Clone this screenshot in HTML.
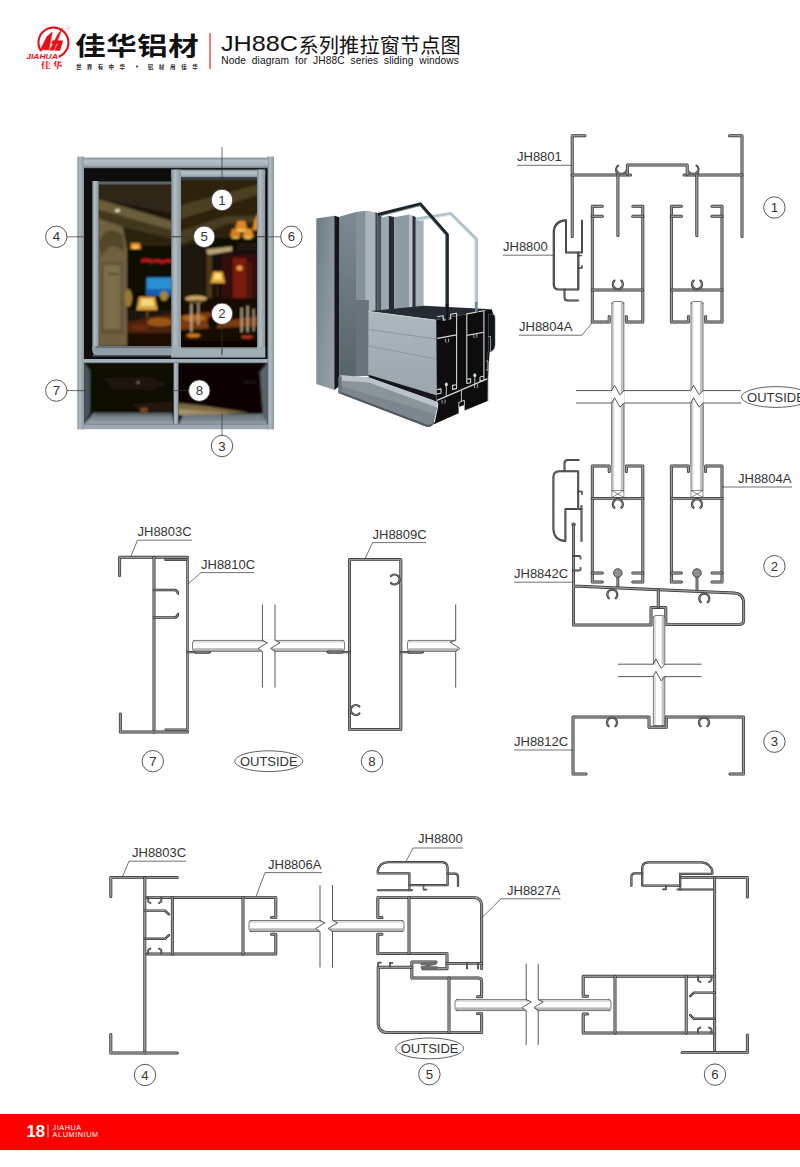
<!DOCTYPE html>
<html><head><meta charset="utf-8"><title>JH88C</title>
<style>
html,body{margin:0;padding:0;background:#fff;}
body{width:800px;height:1167px;overflow:hidden;font-family:"Liberation Sans",sans-serif;}
svg{display:block;font-family:"Liberation Sans",sans-serif;}
</style></head><body>
<svg width="800" height="1167" viewBox="0 0 800 1167">
<g id="header">
<circle cx="53.45" cy="42.6" r="15" fill="none" stroke="#e60f18" stroke-width="2.1"/>
<rect x="24" y="51.2" width="34.6" height="8.6" fill="#fff"/>
<rect x="36" y="57.5" width="22" height="4" fill="#fff"/>
<path d="M40.3 49.8L46.9 36.6L52.3 32L49 49.8Z" fill="#e60f18" stroke="#e60f18" stroke-width="0.5" stroke-linejoin="round"/>
<path d="M49.6 50.2L53.9 50.2L62.3 28L57.2 35.6Z" fill="#e60f18" stroke="#e60f18" stroke-width="0.5" stroke-linejoin="round"/>
<path d="M52.6 40.7L62.9 40.7L61.9 43.4L51.5 43.4Z" fill="#e60f18" stroke="#e60f18" stroke-width="0.5" stroke-linejoin="round"/>
<path d="M57.8 43.2L62.1 43.2L60 50.4L54.8 50.4Z" fill="#e60f18" stroke="#e60f18" stroke-width="0.5" stroke-linejoin="round"/>
<text x="26.2" y="58.9" font-size="7.6" fill="#e60f18" text-anchor="start" font-weight="bold" font-style="italic" textLength="31.6" lengthAdjust="spacingAndGlyphs">JIAHUA</text>
<circle cx="68.2" cy="27.9" r="1.4" fill="none" stroke="#e60f18" stroke-width="0.35" opacity="0.7"/>
<text transform="translate(40.8 68) scale(1.25 1)" x="0 9.28" y="0" font-size="8" font-weight="bold" fill="#e60f18" font-family="'Liberation Serif','Noto Serif CJK SC',serif">佳华</text>
<text transform="translate(75.2 54.6) scale(1.22 1)" x="0 25.41 50.82 76.23" y="0" font-size="25" font-weight="bold" fill="#111" font-family="'Liberation Sans','Noto Sans CJK SC',sans-serif">佳华铝材</text>
<text x="75.9 86.8 97.7 108.6 119.5" y="68.7" font-size="5.5" font-weight="bold" fill="#222" font-family="'Liberation Sans','Noto Sans CJK SC',sans-serif">世界有中华</text>
<rect x="136.2" y="65.6" width="1.7" height="1.7" fill="#222"/>
<text x="147.7 158.85 170 181.15 192.3" y="68.7" font-size="5.5" font-weight="bold" fill="#222" font-family="'Liberation Sans','Noto Sans CJK SC',sans-serif">铝材用佳华</text>
<rect x="209.5" y="33" width="1.1" height="36" fill="#e60f18"/>
<text x="221" y="51" font-size="21.5" fill="#111" text-anchor="start" font-weight="normal" textLength="77" lengthAdjust="spacingAndGlyphs">JH88C</text>
<text x="298.5 318.8 339.1 359.4 379.7 400 420.3 440.6" y="52.5" font-size="20.2" font-weight="normal" fill="#111" font-family="'Liberation Sans','Noto Sans CJK SC',sans-serif">系列推拉窗节点图</text>
<text x="221.3" y="64" font-size="10.2" fill="#111" text-anchor="start" font-weight="normal" textLength="237.5" lengthAdjust="spacing" word-spacing="3">Node diagram for JH88C series sliding windows</text>
</g>
<rect x="0" y="1114" width="800" height="36" fill="#fe0000"/>
<text x="26.5" y="1137.2" font-size="16.2" fill="#fff" text-anchor="start" font-weight="bold" textLength="18.5" lengthAdjust="spacingAndGlyphs">18</text>
<rect x="47.6" y="1124.5" width="0.8" height="13" fill="#fff"/>
<text x="52.6" y="1130.3" font-size="7.2" fill="#fff" text-anchor="start" font-weight="normal" textLength="28.5" lengthAdjust="spacing">JIAHUA</text>
<text x="52.6" y="1137.3" font-size="7.2" fill="#fff" text-anchor="start" font-weight="normal" textLength="45.5" lengthAdjust="spacing">ALUMINIUM</text>
<defs>
<filter id="b1" x="-10%" y="-10%" width="120%" height="120%"><feGaussianBlur stdDeviation="1.1"/></filter>
<filter id="b2" x="-10%" y="-10%" width="120%" height="120%"><feGaussianBlur stdDeviation="2.2"/></filter>
<filter id="b05" x="-5%" y="-5%" width="110%" height="110%"><feGaussianBlur stdDeviation="0.45"/></filter>
<linearGradient id="fr" x1="0" x2="1" y1="0" y2="0"><stop offset="0" stop-color="#7c8890"/><stop offset="0.35" stop-color="#b2bdc4"/><stop offset="1" stop-color="#8b979f"/></linearGradient>
<linearGradient id="frh" x1="0" x2="0" y1="0" y2="1"><stop offset="0" stop-color="#828e96"/><stop offset="0.3" stop-color="#b6c1c8"/><stop offset="0.75" stop-color="#a3afb7"/><stop offset="1" stop-color="#6f7b83"/></linearGradient>
<clipPath id="cgl"><rect x="98.6" y="184.6" width="72.8" height="161.6"/></clipPath>
<clipPath id="cgr"><rect x="181" y="180" width="76" height="167"/></clipPath>
<clipPath id="cpl"><rect x="83.7" y="362.7" width="90" height="61.5"/></clipPath>
<clipPath id="cpr"><rect x="178.4" y="362.7" width="89.3" height="61.5"/></clipPath>
</defs>
<g id="photo" filter="url(#b05)">
<rect x="83" y="166" width="185" height="260" fill="#0b0b0c"/>
<g clip-path="url(#cgl)"><g filter="url(#b1)">
<rect x="95" y="180" width="80" height="170" fill="#1a130a"/>
<polygon points="95,184 175,184 175,214 95,198" fill="#2e2513"/>
<polygon points="95,198 175,222 175,231 95,209" fill="#6b5d3a"/>
<polygon points="95,209 175,231 175,240 126,228 95,219" fill="#43371e"/>
<polygon points="126,228 175,240 175,252 126,244" fill="#2a2011"/>
<polygon points="95,217 123,227 127,248 127,346 95,346" fill="#6e6141"/>
<path d="M99 242Q107 222 123 236L124 252Q110 238 101 258Z" fill="#524629"/>
<rect x="101" y="262" width="22" height="72" fill="#5f5336"/>
<rect x="103.5" y="265" width="17" height="64" fill="#7b6e4b"/>
<rect x="108" y="273.5" width="11" height="1" fill="#3a301c"/>
<ellipse cx="117.5" cy="210.6" rx="2.6" ry="1.4" fill="#fff3d6"/>
<rect x="127" y="246" width="48" height="64" fill="#0c0805"/>
<polygon points="131,243 140,243 141,249 130,249" fill="#d9851f"/>
<ellipse cx="135.5" cy="247" rx="3" ry="1.5" fill="#ffd860"/>
<path d="M141 259.5Q147 257 152 260Q158 258 163 260.5Q168 258 172 260L172 263Q166 261.5 162 264Q156 261.5 151 263.5Q146 261 141 263Z" fill="#b01616"/>
<rect x="146.5" y="277.5" width="26" height="18" fill="#2b8ed6"/>
<rect x="146.5" y="289" width="26" height="6.5" fill="#155fb0"/>
<polygon points="139,297 155,297 157.5,310 136.5,310" fill="#d9a23c"/>
<polygon points="141.5,299 153,299 154,306 140.5,306" fill="#f7d77d"/>
<rect x="146" y="310" width="2.6" height="9" fill="#5a3c14"/>
<ellipse cx="128.5" cy="298" rx="3.6" ry="9" fill="#9a7a30"/>
<ellipse cx="164" cy="296" rx="4" ry="5" fill="#a58638"/>
<polygon points="127,322 175,312 175,334 127,336" fill="#4a2009"/>
<ellipse cx="160" cy="322" rx="13" ry="4.5" fill="#9a5418"/>
<ellipse cx="140" cy="327" rx="10" ry="3" fill="#6a2c0c"/>
<rect x="127" y="333" width="48" height="13" fill="#1a0a05"/>
</g></g>
<g clip-path="url(#cgr)"><g filter="url(#b1)">
<rect x="178" y="176" width="82" height="174" fill="#150e08"/>
<polygon points="178,178 260,178 260,236 178,262" fill="#2d2411"/>
<polygon points="178,206 260,184 260,194 178,220" fill="#4d4022"/>
<polygon points="178,232 226,216 260,216 260,222 226,224 178,246" fill="#4a3d20"/>
<polygon points="178,248 206,240 206,300 178,300" fill="#1f180b"/>
<rect x="205" y="238" width="55" height="11" fill="#0b0705"/>
<polygon points="206,249.5 232,246.5 232,251 208,255" fill="#b9a373"/>
<rect x="206.5" y="255" width="5.5" height="45" fill="#4f3718"/>
<polygon points="237.5,221 245,221 247.5,230 235,230" fill="#e08a28"/>
<polygon points="232,229 239,229 241,236.5 230,236.5" fill="#d97c20"/>
<polygon points="244.5,229 251.5,229 253.5,237 242.5,237" fill="#e3912c"/>
<polygon points="254.5,220 258,213 258,230 252.5,230" fill="#e58f2a"/>
<ellipse cx="241.2" cy="230.6" rx="4.5" ry="1.1" fill="#ffe36a"/>
<ellipse cx="235.5" cy="237.4" rx="4" ry="1.0" fill="#ffd95a"/>
<ellipse cx="248" cy="237.8" rx="4" ry="1.0" fill="#ffd95a"/>
<rect x="237" y="243" width="20" height="8" fill="#1d160d"/>
<rect x="222" y="254" width="38" height="80" fill="#36100a"/>
<rect x="233" y="258" width="13" height="46" fill="#7a1a10"/>
<rect x="246" y="262" width="6" height="40" fill="#4f120b"/>
<ellipse cx="239.5" cy="268" rx="3" ry="2.6" fill="#e9a040"/>
<polygon points="213,271.5 222.5,271.5 225,283 210.5,283" fill="#dfa638"/>
<polygon points="215,273.5 220.5,273.5 221.5,279.5 214,279.5" fill="#ffe27a"/>
<rect x="216.6" y="283" width="1.4" height="14" fill="#3a2810"/>
<rect x="178" y="298" width="82" height="52" fill="#130905"/>
<ellipse cx="196" cy="298.5" rx="11" ry="3" fill="#c9a66a"/>
<ellipse cx="196" cy="301.5" rx="8" ry="1.8" fill="#6a4e24"/>
<polygon points="178,316 208,312 230,320 260,316 260,326 178,330" fill="#7a3a10"/>
<ellipse cx="194" cy="318" rx="12" ry="3.4" fill="#b0661e"/>
<ellipse cx="193.5" cy="335.5" rx="7" ry="2.0" fill="#d27a1a"/>
<ellipse cx="247" cy="337" rx="6" ry="1.6" fill="#b83a22"/>
<rect x="190.5" y="304" width="1.5" height="28" fill="#cdbd9d"/>
<rect x="197.5" y="303" width="1.5" height="22" fill="#b8a888"/>
<rect x="241" y="308" width="1.4" height="24" fill="#cdbd9d"/>
<rect x="247" y="306" width="1.4" height="26" fill="#cdbd9d"/>
<rect x="253" y="309" width="1.4" height="22" fill="#b8a888"/>
<ellipse cx="213" cy="322" rx="5.5" ry="7" fill="#0e0704"/>
<rect x="178" y="341" width="82" height="8" fill="#0e0604"/>
</g></g>
<g clip-path="url(#cpl)"><g filter="url(#b1)">
<rect x="80" y="360" width="96" height="68" fill="#080706"/>
<polygon points="83,362 90,370 90,413 83,425" fill="#4a5358"/>
<polygon points="104,378 150,377 166,384 152,390 112,389" fill="#1f170b"/>
<ellipse cx="138" cy="382.5" rx="1.2" ry="0.8" fill="#b8a888"/>
<polygon points="130,404 172,401 172,411 142,412" fill="#22160a"/>
<ellipse cx="144" cy="410" rx="4" ry="2.4" fill="#7a4618"/>
<polygon points="94,413 172,413 174,425 83,425" fill="#7d878e"/>
<polygon points="96,413 172,413 172,416 94,416" fill="#5d676d"/>
<polygon points="88,420.5 174,420.5 174,425 83,425" fill="#939da4"/>
</g></g>
<g clip-path="url(#cpr)"><g filter="url(#b1)">
<rect x="176" y="360" width="94" height="68" fill="#070606"/>
<polygon points="268,362 260,372 263,414 268,425" fill="#5a656b"/>
<polygon points="178,403 205,406 250,413 178,414" fill="#7e6a42"/>
<polygon points="178,409 236,414 178,415" fill="#a8926a"/>
<polygon points="183,415 263,414 268,425 178,425" fill="#737d84"/>
<polygon points="182,420.5 266,420.5 268,425 178,425" fill="#8f99a0"/>
<polygon points="244,381 256,380 256,383 244,384" fill="#1e1810"/>
</g></g>
<rect x="92.3" y="181" width="6.4" height="170" fill="url(#fr)"/>
<rect x="98.6" y="181.4" width="72.8" height="3.2" fill="#59636a"/>
<path d="M92.3 346L171.4 346L171.4 355.5L97 355.5Q92.3 355.5 92.3 350Z" fill="#929ea6"/>
<rect x="96" y="346" width="75.4" height="2.2" fill="#68737a"/>
<rect x="92.3" y="355" width="79" height="1.6" fill="#4b545a"/>
<rect x="171.2" y="169.6" width="94" height="8" fill="url(#frh)"/>
<rect x="171.2" y="169.6" width="9.8" height="188" fill="url(#fr)"/>
<rect x="257" y="169.6" width="8.2" height="188" fill="url(#fr)"/>
<rect x="171.2" y="347" width="94" height="10.6" fill="#a2aeb6"/>
<rect x="181" y="347" width="76" height="1.6" fill="#6c777e"/>
<rect x="181" y="177.6" width="76" height="2.6" fill="#353d42"/>
<rect x="171.2" y="236.3" width="9.8" height="0.8" fill="#5a656c"/>
<rect x="257" y="236.3" width="8.2" height="0.8" fill="#5a656c"/>
<rect x="221.4" y="348.6" width="0.8" height="7" fill="#56606a"/>
<rect x="171.2" y="356.8" width="94" height="1.2" fill="#6a757c"/>
<rect x="77.4" y="156.5" width="6.6" height="273" fill="url(#fr)"/>
<rect x="267.5" y="156.5" width="6.5" height="273" fill="url(#fr)"/>
<rect x="83.6" y="157.6" width="184.2" height="10.6" fill="url(#frh)"/>
<rect x="83.6" y="359" width="184.2" height="3.8" fill="#a6b2ba"/>
<rect x="83.6" y="362.4" width="184.2" height="0.8" fill="#7a858c"/>
<rect x="173.5" y="362.8" width="5" height="61.5" fill="url(#fr)"/>
<rect x="83.6" y="424" width="184.2" height="5.2" fill="#9ca8b0"/>
<rect x="83.6" y="424" width="184.2" height="0.9" fill="#828d94"/>
</g>
<path d="M222 147L222 189.5" fill="none" stroke="#333" stroke-width="0.7"/>
<path d="M222 324.5L222 354.5" fill="none" stroke="#333" stroke-width="0.7"/>
<path d="M222 413.5L222 435.5" fill="none" stroke="#333" stroke-width="0.7"/>
<path d="M66.8 236.8L85.5 236.8" fill="none" stroke="#333" stroke-width="0.7"/>
<path d="M171.4 236.8L193.7 236.8" fill="none" stroke="#333" stroke-width="0.7"/>
<path d="M257 236.8L280.8 236.8" fill="none" stroke="#333" stroke-width="0.7"/>
<path d="M66.8 390.6L86 390.6" fill="none" stroke="#333" stroke-width="0.7"/>
<path d="M173.6 390.6L188.7 390.6" fill="none" stroke="#333" stroke-width="0.7"/>
<circle cx="222" cy="200" r="10.7" fill="#fff" stroke="#444" stroke-width="0.9"/>
<text x="222" y="204.6" font-size="13.2" fill="#333" text-anchor="middle" font-weight="normal" >1</text>
<circle cx="204.2" cy="236.8" r="10.7" fill="#fff" stroke="#444" stroke-width="0.9"/>
<text x="204.2" y="241.4" font-size="13.2" fill="#333" text-anchor="middle" font-weight="normal" >5</text>
<circle cx="222" cy="313.8" r="10.7" fill="#fff" stroke="#444" stroke-width="0.9"/>
<text x="222" y="318.40000000000003" font-size="13.2" fill="#333" text-anchor="middle" font-weight="normal" >2</text>
<circle cx="199.3" cy="390.6" r="10.7" fill="#fff" stroke="#444" stroke-width="0.9"/>
<text x="199.3" y="395.20000000000005" font-size="13.2" fill="#333" text-anchor="middle" font-weight="normal" >8</text>
<circle cx="56.3" cy="236.8" r="10.7" fill="none" stroke="#444" stroke-width="0.9"/>
<text x="56.3" y="241.4" font-size="13.2" fill="#333" text-anchor="middle" font-weight="normal" >4</text>
<circle cx="291.4" cy="236.8" r="10.7" fill="none" stroke="#444" stroke-width="0.9"/>
<text x="291.4" y="241.4" font-size="13.2" fill="#333" text-anchor="middle" font-weight="normal" >6</text>
<circle cx="56.3" cy="390.6" r="10.7" fill="none" stroke="#444" stroke-width="0.9"/>
<text x="56.3" y="395.20000000000005" font-size="13.2" fill="#333" text-anchor="middle" font-weight="normal" >7</text>
<circle cx="222" cy="446" r="10.7" fill="none" stroke="#444" stroke-width="0.9"/>
<text x="222" y="450.6" font-size="13.2" fill="#333" text-anchor="middle" font-weight="normal" >3</text>
<defs>
<linearGradient id="g3a" x1="0" x2="1" y1="0" y2="1"><stop offset="0" stop-color="#6c7a84"/><stop offset="0.5" stop-color="#84929b"/><stop offset="1" stop-color="#95a2aa"/></linearGradient>
<linearGradient id="g3b" x1="0" x2="0" y1="0" y2="1"><stop offset="0" stop-color="#adb8be"/><stop offset="1" stop-color="#9aa5ac"/></linearGradient>
<linearGradient id="g3c" x1="0" x2="0.25" y1="0" y2="1"><stop offset="0" stop-color="#d0d7db"/><stop offset="0.22" stop-color="#b4bdc2"/><stop offset="0.35" stop-color="#8c969c"/><stop offset="0.8" stop-color="#7a848a"/><stop offset="1" stop-color="#5b656b"/></linearGradient>
<linearGradient id="g3d" x1="0" x2="0" y1="0" y2="1"><stop offset="0" stop-color="#7d8a93"/><stop offset="1" stop-color="#566268"/></linearGradient>
</defs>
<g id="r3d" filter="url(#b05)">
<polygon points="377.5,214.5 381.6,213.5 381.6,312.0 377.5,312.0" fill="#4b555b" />
<polygon points="381.6,217.5 388.8,215.8 388.8,312.0 381.6,312.0" fill="#9ca8b0" />
<polygon points="388.8,215.8 394.4,217.2 394.4,312.0 388.8,312.0" fill="#262c30" />
<polygon points="394.4,217.2 409.0,214.5 409.0,310.0 394.4,310.0" fill="#8f9ba3" />
<polygon points="409.0,214.5 412.4,215.5 412.4,310.0 409.0,310.0" fill="#b9c3c9" />
<polygon points="412.4,215.5 415.8,217.0 415.8,308.0 412.4,308.0" fill="#2c3337" />
<polygon points="415.8,218.6 423.6,217.0 423.6,308.0 415.8,308.0" fill="#a5b1b8" />
<polygon points="316.3,218.6 334.3,215.7 334.3,390.0 316.3,384.0" fill="url(#g3a)" />
<polygon points="334.3,215.7 339.6,217.2 339.6,386.0 334.3,390.0" fill="#14181b" />
<polygon points="339.6,216.6 356.0,211.9 356.0,376.0 339.6,380.0" fill="url(#g3d)" />
<polygon points="356.0,211.9 365.8,210.7 365.8,375.0 356.0,376.0" fill="#84919a" />
<polygon points="365.8,210.4 375.3,212.2 375.3,314.0 365.8,314.0" fill="#a9b5bc" />
<polygon points="375.3,212.2 377.6,213.0 377.6,313.0 375.3,313.0" fill="#3d464b" />
<polygon points="356.0,300.0 368.8,300.0 368.8,376.0 356.0,376.0" fill="#67737a" />
<polyline points="416.5,219.2 450.6,213.6 476.3,239.2 476.3,306.0" fill="none" stroke="#b0c3ca" stroke-width="3.4" stroke-linejoin="round" />
<polyline points="418.0,220.6 450.2,215.3 474.8,239.8 474.8,306.0" fill="none" stroke="#e1eaed" stroke-width="1.0" stroke-linejoin="round" />
<polyline points="377.8,214.6 420.3,204.0 447.2,234.6 447.2,308.0" fill="none" stroke="#1e262b" stroke-width="3.3" stroke-linejoin="round" />
<polyline points="379.0,216.2 420.0,205.7 445.8,235.0 445.8,306.0" fill="none" stroke="#65737b" stroke-width="0.8" stroke-linejoin="round" />
<polygon points="368.2,311.2 424.0,305.7 491.7,309.3 435.9,320.0" fill="#262c30" />
<polygon points="368.6,311.2 436.2,320.0 436.2,395.3 368.6,375.2" fill="url(#g3b)" />
<polyline points="368.2,329.4 435.9,339.0" fill="none" stroke="#7b868d" stroke-width="0.6" stroke-linejoin="round" />
<polyline points="368.2,346.0 435.9,359.0" fill="none" stroke="#7b868d" stroke-width="0.6" stroke-linejoin="round" />
<polyline points="368.2,311.4 435.9,320.2" fill="none" stroke="#d0d8dc" stroke-width="0.7" stroke-linejoin="round" />
<polygon points="436.2,320.0 491.7,309.3 494.0,316.4 494.0,347.3 489.6,352.0 488.0,377.0 487.6,401.0 464.6,410.6 464.6,405.0 458.6,407.0 458.6,413.2 433.5,424.6 437.0,402.0 436.6,392.4" fill="#0b0c0d" />
<polyline points="447.2,304.0 447.2,319.0" fill="none" stroke="#0e1316" stroke-width="2.6" stroke-linejoin="round" />
<polyline points="476.3,302.0 476.3,313.0" fill="none" stroke="#6f848d" stroke-width="2.6" stroke-linejoin="round" />
<polyline points="437.2,316.8 443.2,315.7 443.2,320.2 446.0,319.7" fill="none" stroke="#d3d9dc" stroke-width="1.1" stroke-linejoin="round" />
<polyline points="448.6,319.2 450.7,318.8 450.7,314.3 456.6,313.2 456.6,388.6 452.6,389.4 452.6,385.2" fill="none" stroke="#d3d9dc" stroke-width="1.1" stroke-linejoin="round" />
<polyline points="437.2,338.4 456.6,334.9" fill="none" stroke="#d3d9dc" stroke-width="1.1" stroke-linejoin="round" />
<polyline points="437.2,389.6 441.0,388.9 441.0,393.2 437.2,393.9" fill="none" stroke="#d3d9dc" stroke-width="1.1" stroke-linejoin="round" />
<polyline points="452.2,385.4 456.2,384.7" fill="none" stroke="#d3d9dc" stroke-width="1.1" stroke-linejoin="round" />
<polyline points="476.0,312.2 466.8,313.9 466.8,383.5 470.6,382.8 470.6,378.6" fill="none" stroke="#d3d9dc" stroke-width="1.1" stroke-linejoin="round" />
<polyline points="478.4,311.8 483.9,310.8 483.9,380.4 480.0,381.1 480.0,377.0" fill="none" stroke="#d3d9dc" stroke-width="1.1" stroke-linejoin="round" />
<polyline points="466.8,335.4 483.9,332.3" fill="none" stroke="#d3d9dc" stroke-width="1.1" stroke-linejoin="round" />
<polyline points="466.8,379.2 470.4,378.6" fill="none" stroke="#d3d9dc" stroke-width="1.1" stroke-linejoin="round" />
<polyline points="480.2,376.8 483.9,376.2" fill="none" stroke="#d3d9dc" stroke-width="1.1" stroke-linejoin="round" />
<path d="M445.6 339.0Q444.8 341.8 446.2 342.59999999999997M448.4 338.59999999999997Q449.4 341.4 447.9 342.4" fill="none" stroke="#d3d9dc" stroke-width="0.8"/>
<path d="M473.8 334.40000000000003Q473.0 337.20000000000005 474.4 338.0M476.59999999999997 334.0Q477.59999999999997 336.8 476.09999999999997 337.8" fill="none" stroke="#d3d9dc" stroke-width="0.8"/>
<path d="M442.1 400.0Q441.3 402.8 442.7 403.59999999999997M444.9 399.59999999999997Q445.9 402.4 444.4 403.4" fill="none" stroke="#d3d9dc" stroke-width="0.8"/>
<path d="M474.6 384.6Q473.8 387.40000000000003 475.2 388.2M477.4 384.2Q478.4 387.0 476.9 388.0" fill="none" stroke="#d3d9dc" stroke-width="0.8"/>
<ellipse cx="446.3" cy="384.6" rx="1.5" ry="2" fill="#d3d9dc"/>
<polyline points="446.3,384.6 446.3,396.4" fill="none" stroke="#d3d9dc" stroke-width="0.9" stroke-linejoin="round" />
<ellipse cx="474.8" cy="375.2" rx="1.5" ry="2" fill="#d3d9dc"/>
<polyline points="474.8,375.2 474.8,384.6" fill="none" stroke="#d3d9dc" stroke-width="0.9" stroke-linejoin="round" />
<polyline points="437.0,400.4 487.6,378.6" fill="none" stroke="#d3d9dc" stroke-width="1.3" stroke-linejoin="round" />
<polyline points="461.4,390.0 461.4,401.0" fill="none" stroke="#d3d9dc" stroke-width="0.9" stroke-linejoin="round" />
<polyline points="458.8,407.4 458.8,402.4 464.4,400.2 464.4,405.4" fill="none" stroke="#d3d9dc" stroke-width="0.9" stroke-linejoin="round" />
<polyline points="487.8,352.0 487.8,401.0" fill="none" stroke="#4a5358" stroke-width="0.8" stroke-linejoin="round" />
<polyline points="486.2,361.0 488.0,361.0 488.0,370.0 486.2,370.0" fill="none" stroke="#d3d9dc" stroke-width="0.8" stroke-linejoin="round" />
<path d="M488.4 314.6L492.6 314.2Q495 314.6 495 318L495 345Q494.6 350.6 489.6 352L488.4 352Z" fill="#0f1214" stroke="#5d676d" stroke-width="0.6"/>
<polyline points="488.6,336.5 490.6,336.5 490.6,351.0" fill="none" stroke="#d3d9dc" stroke-width="0.7" stroke-linejoin="round" />
<polygon points="368.6,374.8 436.7,395.2 436.7,401.9 368.6,377.8" fill="#14181a" />
<path d="M338.6 378.4Q338.8 375.2 342 375.3L369.25 377.5L432.5 399.9Q438.2 402 437 407L434 422Q432.5 428 426 426.6L338.6 393Z" fill="#8a949a"/>
<path d="M338.8 377.4Q339.4 375.2 342 375.3L369.25 377.5L432.5 399.9Q437.4 401.6 437.2 405.4L436.6 407.6L369 382.4L338.8 380.6Z" fill="#b9c3c8"/>
<path d="M338.6 385.4L435.6 414L434 422Q432.5 428 426 426.6L338.6 393Z" fill="#7c868c"/>
<path d="M338.6 391L427 424.8Q431.5 425.8 433.6 421.5L434 422Q432.5 428 426 426.6L338.6 393Z" fill="#4e585e"/>
<path d="M338.6 377L338.6 393L341.6 394.2L341.6 376Z" fill="#69737a"/>
<path d="M436.4 401.4Q438.4 403.4 437.3 408L434.3 422.5" fill="none" stroke="#e3e8ea" stroke-width="1.1"/>
</g>
<g id="n123">
<path d="M585 135.7L572.2 135.7L572.2 236.4" fill="none" stroke="#303030" stroke-width="3.0" stroke-linecap="round" stroke-linejoin="round"/>
<path d="M585 135.7L572.2 135.7L572.2 236.4" fill="none" stroke="#989898" stroke-width="1.6" stroke-linecap="round" stroke-linejoin="round"/>
<path d="M729.5 135.7L742 135.7L742 236.4" fill="none" stroke="#303030" stroke-width="3.0" stroke-linecap="round" stroke-linejoin="round"/>
<path d="M729.5 135.7L742 135.7L742 236.4" fill="none" stroke="#989898" stroke-width="1.6" stroke-linecap="round" stroke-linejoin="round"/>
<path d="M572.2 175L630.5 175" fill="none" stroke="#303030" stroke-width="3.0" stroke-linecap="round" stroke-linejoin="round"/>
<path d="M572.2 175L630.5 175" fill="none" stroke="#989898" stroke-width="1.6" stroke-linecap="round" stroke-linejoin="round"/>
<path d="M684 175L742 175" fill="none" stroke="#303030" stroke-width="3.0" stroke-linecap="round" stroke-linejoin="round"/>
<path d="M684 175L742 175" fill="none" stroke="#989898" stroke-width="1.6" stroke-linecap="round" stroke-linejoin="round"/>
<path d="M627.4 174.5L627.4 165L687.2 165L687.2 174.5" fill="none" stroke="#303030" stroke-width="3.0" stroke-linecap="round" stroke-linejoin="round"/>
<path d="M627.4 174.5L627.4 165L687.2 165L687.2 174.5" fill="none" stroke="#989898" stroke-width="1.6" stroke-linecap="round" stroke-linejoin="round"/>
<path d="M617.9 174.9L617.9 235.4" fill="none" stroke="#303030" stroke-width="3.0" stroke-linecap="round" stroke-linejoin="round"/>
<path d="M617.9 174.9L617.9 235.4" fill="none" stroke="#989898" stroke-width="1.6" stroke-linecap="round" stroke-linejoin="round"/>
<path d="M696.8 174.9L696.8 235.4" fill="none" stroke="#303030" stroke-width="3.0" stroke-linecap="round" stroke-linejoin="round"/>
<path d="M696.8 174.9L696.8 235.4" fill="none" stroke="#989898" stroke-width="1.6" stroke-linecap="round" stroke-linejoin="round"/>
<path d="M617 174Q614.6 168.5 618.2 165.6" fill="none" stroke="#303030" stroke-width="1.9" stroke-linecap="round" stroke-linejoin="round"/>
<path d="M617 174Q614.6 168.5 618.2 165.6" fill="none" stroke="#989898" stroke-width="0.6" stroke-linecap="round" stroke-linejoin="round"/>
<path d="M697.6 174Q700 168.5 696.4 165.6" fill="none" stroke="#303030" stroke-width="1.9" stroke-linecap="round" stroke-linejoin="round"/>
<path d="M697.6 174Q700 168.5 696.4 165.6" fill="none" stroke="#989898" stroke-width="0.6" stroke-linecap="round" stroke-linejoin="round"/>
<path d="M616.5 174.5Q621.6 176 626.6 174.5L626.6 166Q625.8 172.6 621.6 172.8Q617.6 172.6 617.4 168.5Z" fill="#6a6a6a"/>
<path d="M698.1 174.5Q693 176 688 174.5L688 166Q688.8 172.6 693 172.8Q697 172.6 697.2 168.5Z" fill="#6a6a6a"/>
<text x="517" y="161" font-size="13" fill="#333" text-anchor="start" font-weight="normal" >JH8801</text>
<path d="M517 165.3L572 165.3" fill="none" stroke="#333" stroke-width="0.7"/>
<path d="M566 220.4Q553.8 221 553.8 233L553.8 284.5Q553.8 289.5 559 289.5L578.3 289.5L578.3 252.6" fill="none" stroke="#303030" stroke-width="2.2" stroke-linecap="round" stroke-linejoin="round"/>
<path d="M566 220.4Q553.8 221 553.8 233L553.8 284.5Q553.8 289.5 559 289.5L578.3 289.5L578.3 252.6" fill="none" stroke="#989898" stroke-width="0.5" stroke-linecap="round" stroke-linejoin="round"/>
<path d="M566 220.4L566 252.6L582 252.6L582 220.4" fill="none" stroke="#303030" stroke-width="2.0" stroke-linecap="round" stroke-linejoin="round"/>
<path d="M566 220.4L566 252.6L582 252.6L582 220.4" fill="none" stroke="#989898" stroke-width="0.5" stroke-linecap="round" stroke-linejoin="round"/>
<path d="M564.5 289.5L564.5 297Q564.5 300.5 568 300.5L578 300.5" fill="none" stroke="#303030" stroke-width="2.0" stroke-linecap="round" stroke-linejoin="round"/>
<path d="M564.5 289.5L564.5 297Q564.5 300.5 568 300.5L578 300.5" fill="none" stroke="#989898" stroke-width="0.5" stroke-linecap="round" stroke-linejoin="round"/>
<path d="M578.3 255.6L581.5 255.6M578.3 268L582 268L582 265.6" fill="none" stroke="#303030" stroke-width="1.4" stroke-linecap="round" stroke-linejoin="round"/>
<path d="M578.3 255.6L581.5 255.6M578.3 268L582 268L582 265.6" fill="none" stroke="#989898" stroke-width="0.3" stroke-linecap="round" stroke-linejoin="round"/>
<text x="503" y="251" font-size="13" fill="#333" text-anchor="start" font-weight="normal" >JH8800</text>
<path d="M503 255.2L553 255.2" fill="none" stroke="#333" stroke-width="0.7"/>
<path d="M602.3 206.3L592.3 206.3L592.3 322L609.2 322L609.2 316.5" fill="none" stroke="#303030" stroke-width="3.0" stroke-linecap="round" stroke-linejoin="round"/>
<path d="M602.3 206.3L592.3 206.3L592.3 322L609.2 322L609.2 316.5" fill="none" stroke="#989898" stroke-width="1.6" stroke-linecap="round" stroke-linejoin="round"/>
<path d="M632.8 206.3L642.8 206.3L642.8 322L626.4 322L626.4 316.5" fill="none" stroke="#303030" stroke-width="3.0" stroke-linecap="round" stroke-linejoin="round"/>
<path d="M632.8 206.3L642.8 206.3L642.8 322L626.4 322L626.4 316.5" fill="none" stroke="#989898" stroke-width="1.6" stroke-linecap="round" stroke-linejoin="round"/>
<path d="M592.3 216.3L602.3 216.3" fill="none" stroke="#303030" stroke-width="3.0" stroke-linecap="round" stroke-linejoin="round"/>
<path d="M592.3 216.3L602.3 216.3" fill="none" stroke="#989898" stroke-width="1.6" stroke-linecap="round" stroke-linejoin="round"/>
<path d="M642.8 216.3L632.8 216.3" fill="none" stroke="#303030" stroke-width="3.0" stroke-linecap="round" stroke-linejoin="round"/>
<path d="M642.8 216.3L632.8 216.3" fill="none" stroke="#989898" stroke-width="1.6" stroke-linecap="round" stroke-linejoin="round"/>
<path d="M592.3 290L642.8 290" fill="none" stroke="#303030" stroke-width="3.0" stroke-linecap="round" stroke-linejoin="round"/>
<path d="M592.3 290L642.8 290" fill="none" stroke="#989898" stroke-width="1.6" stroke-linecap="round" stroke-linejoin="round"/>
<path d="M621.32 280.60A5.0 5.0 0 1 1 614.38 280.60" fill="none" stroke="#303030" stroke-width="2.2" stroke-linecap="round" stroke-linejoin="round"/>
<path d="M621.32 280.60A5.0 5.0 0 1 1 614.38 280.60" fill="none" stroke="#989898" stroke-width="0.8" stroke-linecap="round" stroke-linejoin="round"/>
<rect x="611.8499999999999" y="302.5" width="12.0" height="163.5" fill="#fff"/>
<rect x="612.1499999999999" y="302.5" width="2.2" height="163.5" fill="#dadada"/>
<rect x="620.7499999999999" y="302.5" width="2.8" height="163.5" fill="#c2c2c2"/>
<path d="M611.8499999999999 302.5L611.8499999999999 466M623.8499999999999 302.5L623.8499999999999 466" fill="none" stroke="#444" stroke-width="0.7"/>
<path d="M611.8499999999999 304.0Q611.8499999999999 301.5 614.3499999999999 301.5L621.3499999999999 301.5Q623.8499999999999 301.5 623.8499999999999 304.0" fill="none" stroke="#444" stroke-width="0.7"/>
<path d="M681.4 206.3L671.4 206.3L671.4 322L688.4 322L688.4 316.5" fill="none" stroke="#303030" stroke-width="3.0" stroke-linecap="round" stroke-linejoin="round"/>
<path d="M681.4 206.3L671.4 206.3L671.4 322L688.4 322L688.4 316.5" fill="none" stroke="#989898" stroke-width="1.6" stroke-linecap="round" stroke-linejoin="round"/>
<path d="M712 206.3L722 206.3L722 322L705.6 322L705.6 316.5" fill="none" stroke="#303030" stroke-width="3.0" stroke-linecap="round" stroke-linejoin="round"/>
<path d="M712 206.3L722 206.3L722 322L705.6 322L705.6 316.5" fill="none" stroke="#989898" stroke-width="1.6" stroke-linecap="round" stroke-linejoin="round"/>
<path d="M671.4 216.3L681.4 216.3" fill="none" stroke="#303030" stroke-width="3.0" stroke-linecap="round" stroke-linejoin="round"/>
<path d="M671.4 216.3L681.4 216.3" fill="none" stroke="#989898" stroke-width="1.6" stroke-linecap="round" stroke-linejoin="round"/>
<path d="M722 216.3L712 216.3" fill="none" stroke="#303030" stroke-width="3.0" stroke-linecap="round" stroke-linejoin="round"/>
<path d="M722 216.3L712 216.3" fill="none" stroke="#989898" stroke-width="1.6" stroke-linecap="round" stroke-linejoin="round"/>
<path d="M671.4 290L722 290" fill="none" stroke="#303030" stroke-width="3.0" stroke-linecap="round" stroke-linejoin="round"/>
<path d="M671.4 290L722 290" fill="none" stroke="#989898" stroke-width="1.6" stroke-linecap="round" stroke-linejoin="round"/>
<path d="M700.47 280.60A5.0 5.0 0 1 1 693.53 280.60" fill="none" stroke="#303030" stroke-width="2.2" stroke-linecap="round" stroke-linejoin="round"/>
<path d="M700.47 280.60A5.0 5.0 0 1 1 693.53 280.60" fill="none" stroke="#989898" stroke-width="0.8" stroke-linecap="round" stroke-linejoin="round"/>
<rect x="691.0" y="302.5" width="12.0" height="163.5" fill="#fff"/>
<rect x="691.3" y="302.5" width="2.2" height="163.5" fill="#dadada"/>
<rect x="699.9" y="302.5" width="2.8" height="163.5" fill="#c2c2c2"/>
<path d="M691.0 302.5L691.0 466M703.0 302.5L703.0 466" fill="none" stroke="#444" stroke-width="0.7"/>
<path d="M691.0 304.0Q691.0 301.5 693.5 301.5L700.5 301.5Q703.0 301.5 703.0 304.0" fill="none" stroke="#444" stroke-width="0.7"/>
<text x="519" y="331" font-size="13" fill="#333" text-anchor="start" font-weight="normal" >JH8804A</text>
<path d="M519 335.2L582 335.2L592 323" fill="none" stroke="#333" stroke-width="0.7"/>
<text x="774.4" y="212" font-size="13.2" fill="#333" text-anchor="middle" font-weight="normal" >1</text>
<circle cx="774.4" cy="207.5" r="10.7" fill="none" stroke="#444" stroke-width="0.9"/>
<ellipse cx="776" cy="397" rx="34.5" ry="10.4" fill="none" stroke="#444" stroke-width="0.85"/>
<text x="776" y="401.7" font-size="13" fill="#333" text-anchor="middle" font-weight="normal" >OUTSIDE</text>
<path d="M578.6 460L568 460Q564.5 460 564.5 463.5L564.5 471.2" fill="none" stroke="#303030" stroke-width="2.0" stroke-linecap="round" stroke-linejoin="round"/>
<path d="M578.6 460L568 460Q564.5 460 564.5 463.5L564.5 471.2" fill="none" stroke="#989898" stroke-width="0.5" stroke-linecap="round" stroke-linejoin="round"/>
<path d="M578.2 508.9L578.2 471.2L559 471.2Q553.4 471.5 553.4 477L553.4 529Q554 540.5 565.4 541L565.4 508.9L581.5 508.9" fill="none" stroke="#303030" stroke-width="2.0" stroke-linecap="round" stroke-linejoin="round"/>
<path d="M578.2 508.9L578.2 471.2L559 471.2Q553.4 471.5 553.4 477L553.4 529Q554 540.5 565.4 541L565.4 508.9L581.5 508.9" fill="none" stroke="#989898" stroke-width="0.5" stroke-linecap="round" stroke-linejoin="round"/>
<path d="M581.5 506L581.5 541" fill="none" stroke="#303030" stroke-width="2.0" stroke-linecap="round" stroke-linejoin="round"/>
<path d="M581.5 506L581.5 541" fill="none" stroke="#989898" stroke-width="0.5" stroke-linecap="round" stroke-linejoin="round"/>
<path d="M578.2 491.5L582 491.5L582 494.5" fill="none" stroke="#303030" stroke-width="1.4" stroke-linecap="round" stroke-linejoin="round"/>
<path d="M578.2 491.5L582 491.5L582 494.5" fill="none" stroke="#989898" stroke-width="0.3" stroke-linecap="round" stroke-linejoin="round"/>
<rect x="611.8499999999999" y="466" width="12" height="24" fill="#fff"/>
<rect x="611.8499999999999" y="404" width="12.0" height="86.5" fill="#fff"/>
<rect x="612.1499999999999" y="404" width="2.2" height="86.5" fill="#dadada"/>
<rect x="620.7499999999999" y="404" width="2.8" height="86.5" fill="#c2c2c2"/>
<path d="M611.8499999999999 404L611.8499999999999 490.5M623.8499999999999 404L623.8499999999999 490.5" fill="none" stroke="#444" stroke-width="0.7"/>
<path d="M611.8499999999999 490.5L623.8499999999999 490.5L623.8499999999999 497.5L611.8499999999999 497.5ZM611.8499999999999 490.5L623.8499999999999 497.5M623.8499999999999 490.5L611.8499999999999 497.5" fill="none" stroke="#444" stroke-width="0.6"/>
<path d="M609.2 471.5L609.2 466L592.3 466L592.3 582L602.3 582" fill="none" stroke="#303030" stroke-width="3.0" stroke-linecap="round" stroke-linejoin="round"/>
<path d="M609.2 471.5L609.2 466L592.3 466L592.3 582L602.3 582" fill="none" stroke="#989898" stroke-width="1.6" stroke-linecap="round" stroke-linejoin="round"/>
<path d="M626.4 471.5L626.4 466L642.8 466L642.8 582L632.8 582" fill="none" stroke="#303030" stroke-width="3.0" stroke-linecap="round" stroke-linejoin="round"/>
<path d="M626.4 471.5L626.4 466L642.8 466L642.8 582L632.8 582" fill="none" stroke="#989898" stroke-width="1.6" stroke-linecap="round" stroke-linejoin="round"/>
<path d="M592.3 573L602.3 573" fill="none" stroke="#303030" stroke-width="3.0" stroke-linecap="round" stroke-linejoin="round"/>
<path d="M592.3 573L602.3 573" fill="none" stroke="#989898" stroke-width="1.6" stroke-linecap="round" stroke-linejoin="round"/>
<path d="M642.8 573L632.8 573" fill="none" stroke="#303030" stroke-width="3.0" stroke-linecap="round" stroke-linejoin="round"/>
<path d="M642.8 573L632.8 573" fill="none" stroke="#989898" stroke-width="1.6" stroke-linecap="round" stroke-linejoin="round"/>
<path d="M592.3 498.6L642.8 498.6" fill="none" stroke="#303030" stroke-width="3.0" stroke-linecap="round" stroke-linejoin="round"/>
<path d="M592.3 498.6L642.8 498.6" fill="none" stroke="#989898" stroke-width="1.6" stroke-linecap="round" stroke-linejoin="round"/>
<path d="M614.38 507.80A5.0 5.0 0 1 1 621.32 507.80" fill="none" stroke="#303030" stroke-width="2.2" stroke-linecap="round" stroke-linejoin="round"/>
<path d="M614.38 507.80A5.0 5.0 0 1 1 621.32 507.80" fill="none" stroke="#989898" stroke-width="0.8" stroke-linecap="round" stroke-linejoin="round"/>
<path d="M617.8499999999999 577L617.8499999999999 587.9" stroke="#303030" stroke-width="2.8" fill="none"/>
<path d="M617.8499999999999 577L617.8499999999999 587.9" stroke="#989898" stroke-width="1.4" fill="none"/>
<circle cx="617.8499999999999" cy="573" r="4.3" fill="#8f8f8f" stroke="#303030" stroke-width="0.8"/>
<rect x="691.0" y="466" width="12" height="24" fill="#fff"/>
<rect x="691.0" y="404" width="12.0" height="86.5" fill="#fff"/>
<rect x="691.3" y="404" width="2.2" height="86.5" fill="#dadada"/>
<rect x="699.9" y="404" width="2.8" height="86.5" fill="#c2c2c2"/>
<path d="M691.0 404L691.0 490.5M703.0 404L703.0 490.5" fill="none" stroke="#444" stroke-width="0.7"/>
<path d="M691.0 490.5L703.0 490.5L703.0 497.5L691.0 497.5ZM691.0 490.5L703.0 497.5M703.0 490.5L691.0 497.5" fill="none" stroke="#444" stroke-width="0.6"/>
<path d="M688.4 471.5L688.4 466L671.4 466L671.4 582L681.4 582" fill="none" stroke="#303030" stroke-width="3.0" stroke-linecap="round" stroke-linejoin="round"/>
<path d="M688.4 471.5L688.4 466L671.4 466L671.4 582L681.4 582" fill="none" stroke="#989898" stroke-width="1.6" stroke-linecap="round" stroke-linejoin="round"/>
<path d="M705.6 471.5L705.6 466L722 466L722 582L712 582" fill="none" stroke="#303030" stroke-width="3.0" stroke-linecap="round" stroke-linejoin="round"/>
<path d="M705.6 471.5L705.6 466L722 466L722 582L712 582" fill="none" stroke="#989898" stroke-width="1.6" stroke-linecap="round" stroke-linejoin="round"/>
<path d="M671.4 573L681.4 573" fill="none" stroke="#303030" stroke-width="3.0" stroke-linecap="round" stroke-linejoin="round"/>
<path d="M671.4 573L681.4 573" fill="none" stroke="#989898" stroke-width="1.6" stroke-linecap="round" stroke-linejoin="round"/>
<path d="M722 573L712 573" fill="none" stroke="#303030" stroke-width="3.0" stroke-linecap="round" stroke-linejoin="round"/>
<path d="M722 573L712 573" fill="none" stroke="#989898" stroke-width="1.6" stroke-linecap="round" stroke-linejoin="round"/>
<path d="M671.4 498.6L722 498.6" fill="none" stroke="#303030" stroke-width="3.0" stroke-linecap="round" stroke-linejoin="round"/>
<path d="M671.4 498.6L722 498.6" fill="none" stroke="#989898" stroke-width="1.6" stroke-linecap="round" stroke-linejoin="round"/>
<path d="M693.53 507.80A5.0 5.0 0 1 1 700.47 507.80" fill="none" stroke="#303030" stroke-width="2.2" stroke-linecap="round" stroke-linejoin="round"/>
<path d="M693.53 507.80A5.0 5.0 0 1 1 700.47 507.80" fill="none" stroke="#989898" stroke-width="0.8" stroke-linecap="round" stroke-linejoin="round"/>
<path d="M697.0 577L697.0 591.4" stroke="#303030" stroke-width="2.8" fill="none"/>
<path d="M697.0 577L697.0 591.4" stroke="#989898" stroke-width="1.4" fill="none"/>
<circle cx="697.0" cy="573" r="4.3" fill="#8f8f8f" stroke="#303030" stroke-width="0.8"/>
<path d="M611.1999999999999 390.6L614.5 385.3L620.0 394.8L624.4 390.6L624.4 403L620.0 407.2L614.5 397.7L611.1999999999999 403Z" fill="#fff"/>
<path d="M690.3 390.6L693.6 385.3L699.1 394.8L703.5 390.6L703.5 403L699.1 407.2L693.6 397.7L690.3 403Z" fill="#fff"/>
<path d="M576 390.6L611.8 390.6L614.5 385.3L620 394.8L623.8 390.6L690.9 390.6L693.6 385.3L699.1 394.8L702.9 390.6L741 390.6" fill="none" stroke="#3a3a3a" stroke-width="0.85"/>
<path d="M576 403L611.8 403L614.5 397.7L620 407.2L623.8 403L690.9 403L693.6 397.7L699.1 407.2L702.9 403L741 403" fill="none" stroke="#3a3a3a" stroke-width="0.85"/>
<text x="738" y="482.6" font-size="13" fill="#333" text-anchor="start" font-weight="normal" >JH8804A</text>
<path d="M722 487L792 487" fill="none" stroke="#333" stroke-width="0.7"/>
<circle cx="573.6" cy="524.6" r="1.9" fill="#777" stroke="#3a3a3a" stroke-width="0.6"/>
<path d="M573.5 526L573.5 625L651 625L651 607.5L665.8 607.5L665.8 624.4L739 624.4Q743.6 624.4 743.6 620L743.6 601Q742.5 593.5 734 593L573.5 586" fill="none" stroke="#303030" stroke-width="3.0" stroke-linecap="round" stroke-linejoin="round"/>
<path d="M573.5 526L573.5 625L651 625L651 607.5L665.8 607.5L665.8 624.4L739 624.4Q743.6 624.4 743.6 620L743.6 601Q742.5 593.5 734 593L573.5 586" fill="none" stroke="#989898" stroke-width="1.6" stroke-linecap="round" stroke-linejoin="round"/>
<path d="M573 556L579 556Q581 556 580.5 558.5M573 570.5L579 570.5Q581 570.5 580.5 568" fill="none" stroke="#303030" stroke-width="1.8" stroke-linecap="round" stroke-linejoin="round"/>
<path d="M573 556L579 556Q581 556 580.5 558.5M573 570.5L579 570.5Q581 570.5 580.5 568" fill="none" stroke="#989898" stroke-width="0.6" stroke-linecap="round" stroke-linejoin="round"/>
<path d="M658.3 590.5L658.3 607" fill="none" stroke="#303030" stroke-width="3.0" stroke-linecap="round" stroke-linejoin="round"/>
<path d="M658.3 590.5L658.3 607" fill="none" stroke="#989898" stroke-width="1.6" stroke-linecap="round" stroke-linejoin="round"/>
<path d="M608.83 598.20A5.0 5.0 0 1 1 615.77 598.20" fill="none" stroke="#303030" stroke-width="2.2" stroke-linecap="round" stroke-linejoin="round"/>
<path d="M608.83 598.20A5.0 5.0 0 1 1 615.77 598.20" fill="none" stroke="#989898" stroke-width="0.8" stroke-linecap="round" stroke-linejoin="round"/>
<path d="M700.83 602.20A5.0 5.0 0 1 1 707.77 602.20" fill="none" stroke="#303030" stroke-width="2.2" stroke-linecap="round" stroke-linejoin="round"/>
<path d="M700.83 602.20A5.0 5.0 0 1 1 707.77 602.20" fill="none" stroke="#989898" stroke-width="0.8" stroke-linecap="round" stroke-linejoin="round"/>
<text x="514" y="578" font-size="13" fill="#333" text-anchor="start" font-weight="normal" >JH8842C</text>
<path d="M514 582.2L573 582.2" fill="none" stroke="#333" stroke-width="0.7"/>
<text x="774.4" y="570.7" font-size="13.2" fill="#333" text-anchor="middle" font-weight="normal" >2</text>
<circle cx="774.4" cy="566.2" r="10.7" fill="none" stroke="#444" stroke-width="0.9"/>
<rect x="653.4" y="616.5" width="11.399999999999977" height="109.0" fill="#fff"/>
<rect x="653.6999999999999" y="616.5" width="2.2" height="109.0" fill="#dadada"/>
<rect x="661.6999999999999" y="616.5" width="2.8" height="109.0" fill="#c2c2c2"/>
<path d="M653.4 616.5L653.4 725.5M664.8 616.5L664.8 725.5" fill="none" stroke="#444" stroke-width="0.7"/>
<path d="M653.4 618.0Q653.4 615.5 655.9 615.5L662.3 615.5Q664.8 615.5 664.8 618.0" fill="none" stroke="#444" stroke-width="0.7"/>
<path d="M653.4 725.5L664.8 725.5" fill="none" stroke="#444" stroke-width="0.7"/>
<rect x="617" y="664.6" width="86" height="11.6" fill="#fff"/>
<path d="M618 664.2L653.2 664.2L655.9 658.9000000000001L661.2 668.4000000000001L665 664.2L701.5 664.2" fill="none" stroke="#3a3a3a" stroke-width="0.85"/>
<path d="M618 676.6L653.2 676.6L655.9 671.3000000000001L661.2 680.8000000000001L665 676.6L701.5 676.6" fill="none" stroke="#3a3a3a" stroke-width="0.85"/>
<path d="M586 774L573 774L573 717L649 717L649 727.3L666.3 727.3L666.3 717L743.4 717L743.4 774L730 774" fill="none" stroke="#303030" stroke-width="3.0" stroke-linecap="round" stroke-linejoin="round"/>
<path d="M586 774L573 774L573 717L649 717L649 727.3L666.3 727.3L666.3 717L743.4 717L743.4 774L730 774" fill="none" stroke="#989898" stroke-width="1.6" stroke-linecap="round" stroke-linejoin="round"/>
<path d="M608.53 726.20A5.0 5.0 0 1 1 615.47 726.20" fill="none" stroke="#303030" stroke-width="2.2" stroke-linecap="round" stroke-linejoin="round"/>
<path d="M608.53 726.20A5.0 5.0 0 1 1 615.47 726.20" fill="none" stroke="#989898" stroke-width="0.8" stroke-linecap="round" stroke-linejoin="round"/>
<path d="M700.53 726.20A5.0 5.0 0 1 1 707.47 726.20" fill="none" stroke="#303030" stroke-width="2.2" stroke-linecap="round" stroke-linejoin="round"/>
<path d="M700.53 726.20A5.0 5.0 0 1 1 707.47 726.20" fill="none" stroke="#989898" stroke-width="0.8" stroke-linecap="round" stroke-linejoin="round"/>
<text x="514" y="745.6" font-size="13" fill="#333" text-anchor="start" font-weight="normal" >JH8812C</text>
<path d="M514 750L573 750" fill="none" stroke="#333" stroke-width="0.7"/>
<text x="774.4" y="746.2" font-size="13.2" fill="#333" text-anchor="middle" font-weight="normal" >3</text>
<circle cx="774.4" cy="741.7" r="10.7" fill="none" stroke="#444" stroke-width="0.9"/>
</g>
<g id="n78">
<path d="M119.6 575.5L119.6 557.2L187.5 557.2" fill="none" stroke="#303030" stroke-width="3.0" stroke-linecap="round" stroke-linejoin="round"/>
<path d="M119.6 575.5L119.6 557.2L187.5 557.2" fill="none" stroke="#989898" stroke-width="1.6" stroke-linecap="round" stroke-linejoin="round"/>
<path d="M154 557.2L154 732" fill="none" stroke="#303030" stroke-width="3.0" stroke-linecap="round" stroke-linejoin="round"/>
<path d="M154 557.2L154 732" fill="none" stroke="#989898" stroke-width="1.6" stroke-linecap="round" stroke-linejoin="round"/>
<path d="M120.4 714L120.4 732L187.5 732" fill="none" stroke="#303030" stroke-width="3.0" stroke-linecap="round" stroke-linejoin="round"/>
<path d="M120.4 714L120.4 732L187.5 732" fill="none" stroke="#989898" stroke-width="1.6" stroke-linecap="round" stroke-linejoin="round"/>
<path d="M154 590L174 590Q177.5 590 178 593.5" fill="none" stroke="#303030" stroke-width="2.4" stroke-linecap="round" stroke-linejoin="round"/>
<path d="M154 590L174 590Q177.5 590 178 593.5" fill="none" stroke="#989898" stroke-width="1.0" stroke-linecap="round" stroke-linejoin="round"/>
<path d="M154 617.5L174 617.5Q177.5 617.5 178 614" fill="none" stroke="#303030" stroke-width="2.4" stroke-linecap="round" stroke-linejoin="round"/>
<path d="M154 617.5L174 617.5Q177.5 617.5 178 614" fill="none" stroke="#989898" stroke-width="1.0" stroke-linecap="round" stroke-linejoin="round"/>
<path d="M165.5 559.8L187.5 559.8L187.5 729.6L165.5 729.6" fill="none" stroke="#303030" stroke-width="2.4" stroke-linecap="round" stroke-linejoin="round"/>
<path d="M165.5 559.8L187.5 559.8L187.5 729.6L165.5 729.6" fill="none" stroke="#989898" stroke-width="1.0" stroke-linecap="round" stroke-linejoin="round"/>
<path d="M187.5 652.2L210 652.2" fill="none" stroke="#303030" stroke-width="2.2" stroke-linecap="round" stroke-linejoin="round"/>
<path d="M187.5 652.2L210 652.2" fill="none" stroke="#989898" stroke-width="0.9" stroke-linecap="round" stroke-linejoin="round"/>
<rect x="195" y="650.9000000000001" width="14.5" height="2.6" fill="#777" stroke="#333" stroke-width="0.5"/>
<text x="137.5" y="536" font-size="13" fill="#333" text-anchor="start" font-weight="normal" >JH8803C</text>
<path d="M192 540.2L137.5 540.2L131 556" fill="none" stroke="#333" stroke-width="0.7"/>
<text x="201" y="569" font-size="13" fill="#333" text-anchor="start" font-weight="normal" >JH8810C</text>
<path d="M254 572.6L201 572.6L188 584" fill="none" stroke="#333" stroke-width="0.7"/>
<rect x="193.5" y="640.4" width="150.0" height="11.0" fill="#fff"/>
<rect x="193.5" y="640.6999999999999" width="150.0" height="2.0" fill="#dcdcdc"/>
<rect x="193.5" y="648.1999999999999" width="150.0" height="3.0" fill="#b6b6b6"/>
<path d="M193.5 640.4L343.5 640.4M193.5 651.4L343.5 651.4" fill="none" stroke="#444" stroke-width="0.7"/>
<path d="M195.0 640.4Q192.5 640.4 192.5 642.9L192.5 648.9Q192.5 651.4 195.0 651.4" fill="none" stroke="#444" stroke-width="0.7"/>
<path d="M342.0 640.4Q344.5 640.4 344.5 642.9L344.5 648.9Q344.5 651.4 342.0 651.4" fill="none" stroke="#444" stroke-width="0.7"/>
<path d="M262.4 639.8L267.4 642.7L258.1 648.4L262.4 652.0L275 652.0L270.7 648.4L280.0 642.7L275 639.8Z" fill="#fff"/>
<path d="M262.4 604.5L262.4 640.4L267.4 642.7L258.1 648.4L262.4 651.4L262.4 687.5" fill="none" stroke="#3a3a3a" stroke-width="0.85"/>
<path d="M275 604.5L275 640.4L280.0 642.7L270.7 648.4L275 651.4L275 687.5" fill="none" stroke="#3a3a3a" stroke-width="0.85"/>
<path d="M349.5 559.6L400.8 559.6L400.8 729.6L349.5 729.6Z" fill="none" stroke="#303030" stroke-width="3.0" stroke-linecap="round" stroke-linejoin="round"/>
<path d="M349.5 559.6L400.8 559.6L400.8 729.6L349.5 729.6Z" fill="none" stroke="#989898" stroke-width="1.6" stroke-linecap="round" stroke-linejoin="round"/>
<path d="M391.00 576.03A5.0 5.0 0 1 1 391.00 582.97" fill="none" stroke="#303030" stroke-width="2.2" stroke-linecap="round" stroke-linejoin="round"/>
<path d="M391.00 576.03A5.0 5.0 0 1 1 391.00 582.97" fill="none" stroke="#989898" stroke-width="0.8" stroke-linecap="round" stroke-linejoin="round"/>
<path d="M359.40 713.47A5.0 5.0 0 1 1 359.40 706.53" fill="none" stroke="#303030" stroke-width="2.2" stroke-linecap="round" stroke-linejoin="round"/>
<path d="M359.40 713.47A5.0 5.0 0 1 1 359.40 706.53" fill="none" stroke="#989898" stroke-width="0.8" stroke-linecap="round" stroke-linejoin="round"/>
<path d="M327.5 652.2L349.5 652.2" fill="none" stroke="#303030" stroke-width="2.2" stroke-linecap="round" stroke-linejoin="round"/>
<path d="M327.5 652.2L349.5 652.2" fill="none" stroke="#989898" stroke-width="0.9" stroke-linecap="round" stroke-linejoin="round"/>
<rect x="328" y="650.9000000000001" width="14.5" height="2.6" fill="#777" stroke="#333" stroke-width="0.5"/>
<path d="M400.8 652.2L423 652.2" fill="none" stroke="#303030" stroke-width="2.2" stroke-linecap="round" stroke-linejoin="round"/>
<path d="M400.8 652.2L423 652.2" fill="none" stroke="#989898" stroke-width="0.9" stroke-linecap="round" stroke-linejoin="round"/>
<rect x="408" y="650.9000000000001" width="14.5" height="2.6" fill="#777" stroke="#333" stroke-width="0.5"/>
<text x="372.5" y="539" font-size="13" fill="#333" text-anchor="start" font-weight="normal" >JH8809C</text>
<path d="M426 542.6L372.5 542.6L365 559" fill="none" stroke="#333" stroke-width="0.7"/>
<rect x="408.5" y="640.4" width="49.5" height="11.0" fill="#fff"/>
<rect x="408.5" y="640.6999999999999" width="49.5" height="2.0" fill="#dcdcdc"/>
<rect x="408.5" y="648.1999999999999" width="49.5" height="3.0" fill="#b6b6b6"/>
<path d="M408.5 640.4L458 640.4M408.5 651.4L458 651.4" fill="none" stroke="#444" stroke-width="0.7"/>
<path d="M410.0 640.4Q407.5 640.4 407.5 642.9L407.5 648.9Q407.5 651.4 410.0 651.4" fill="none" stroke="#444" stroke-width="0.7"/>
<path d="M455.7 639L455.7 640.3L450.1 642.2L459.9 648.5L455.7 651.4L455.7 653L466 653L466 639Z" fill="#fff"/>
<path d="M455.7 604.5L455.7 640.3L450.1 642.2L459.9 648.5L455.7 651.4L455.7 687.5" fill="none" stroke="#3a3a3a" stroke-width="0.85"/>
<circle cx="152.8" cy="761.2" r="10.7" fill="none" stroke="#444" stroke-width="0.9"/>
<text x="152.8" y="765.8000000000001" font-size="13.2" fill="#333" text-anchor="middle" font-weight="normal" >7</text>
<circle cx="372" cy="761.2" r="10.7" fill="none" stroke="#444" stroke-width="0.9"/>
<text x="372" y="765.8000000000001" font-size="13.2" fill="#333" text-anchor="middle" font-weight="normal" >8</text>
<ellipse cx="268.8" cy="761.2" rx="34" ry="10.4" fill="none" stroke="#444" stroke-width="0.85"/>
<text x="268.8" y="765.9" font-size="13" fill="#333" text-anchor="middle" font-weight="normal" >OUTSIDE</text>
</g>
<g id="n456">
<path d="M110.8 896.5L110.8 877.6L177.3 877.6" fill="none" stroke="#303030" stroke-width="3.0" stroke-linecap="round" stroke-linejoin="round"/>
<path d="M110.8 896.5L110.8 877.6L177.3 877.6" fill="none" stroke="#989898" stroke-width="1.6" stroke-linecap="round" stroke-linejoin="round"/>
<path d="M144.8 877.6L144.8 1053" fill="none" stroke="#303030" stroke-width="3.0" stroke-linecap="round" stroke-linejoin="round"/>
<path d="M144.8 877.6L144.8 1053" fill="none" stroke="#989898" stroke-width="1.6" stroke-linecap="round" stroke-linejoin="round"/>
<path d="M110.8 1034.5L110.8 1053L177.3 1053" fill="none" stroke="#303030" stroke-width="3.0" stroke-linecap="round" stroke-linejoin="round"/>
<path d="M110.8 1034.5L110.8 1053L177.3 1053" fill="none" stroke="#989898" stroke-width="1.6" stroke-linecap="round" stroke-linejoin="round"/>
<path d="M144.8 910.6L165 910.6L169 914.3" fill="none" stroke="#303030" stroke-width="2.4" stroke-linecap="round" stroke-linejoin="round"/>
<path d="M144.8 910.6L165 910.6L169 914.3" fill="none" stroke="#989898" stroke-width="1.0" stroke-linecap="round" stroke-linejoin="round"/>
<path d="M144.8 938.8L165 938.8L169 935.2" fill="none" stroke="#303030" stroke-width="2.4" stroke-linecap="round" stroke-linejoin="round"/>
<path d="M144.8 938.8L165 938.8L169 935.2" fill="none" stroke="#989898" stroke-width="1.0" stroke-linecap="round" stroke-linejoin="round"/>
<text x="132" y="857" font-size="13" fill="#333" text-anchor="start" font-weight="normal" >JH8803C</text>
<path d="M186 861.2L129 861.2L122.5 876.5" fill="none" stroke="#333" stroke-width="0.7"/>
<path d="M147 897.4L275.8 897.4L275.8 917.6L271.5 917.6" fill="none" stroke="#303030" stroke-width="3.0" stroke-linecap="round" stroke-linejoin="round"/>
<path d="M147 897.4L275.8 897.4L275.8 917.6L271.5 917.6" fill="none" stroke="#989898" stroke-width="1.6" stroke-linecap="round" stroke-linejoin="round"/>
<path d="M147 954L275.8 954L275.8 934.2L271.5 934.2" fill="none" stroke="#303030" stroke-width="3.0" stroke-linecap="round" stroke-linejoin="round"/>
<path d="M147 954L275.8 954L275.8 934.2L271.5 934.2" fill="none" stroke="#989898" stroke-width="1.6" stroke-linecap="round" stroke-linejoin="round"/>
<path d="M172.4 897.4L172.4 954" fill="none" stroke="#303030" stroke-width="3.0" stroke-linecap="round" stroke-linejoin="round"/>
<path d="M172.4 897.4L172.4 954" fill="none" stroke="#989898" stroke-width="1.6" stroke-linecap="round" stroke-linejoin="round"/>
<path d="M243 897.4L243 954" fill="none" stroke="#303030" stroke-width="3.0" stroke-linecap="round" stroke-linejoin="round"/>
<path d="M243 897.4L243 954" fill="none" stroke="#989898" stroke-width="1.6" stroke-linecap="round" stroke-linejoin="round"/>
<path d="M148.2 898L148.2 901.5L150.5 903M161.3 898L161.3 901.5L159 903" fill="none" stroke="#303030" stroke-width="1.8" stroke-linecap="round" stroke-linejoin="round"/>
<path d="M148.2 898L148.2 901.5L150.5 903M161.3 898L161.3 901.5L159 903" fill="none" stroke="#989898" stroke-width="0.6" stroke-linecap="round" stroke-linejoin="round"/>
<path d="M148.2 953.4L148.2 950L150.5 948.5M161.3 953.4L161.3 950L159 948.5" fill="none" stroke="#303030" stroke-width="1.8" stroke-linecap="round" stroke-linejoin="round"/>
<path d="M148.2 953.4L148.2 950L150.5 948.5M161.3 953.4L161.3 950L159 948.5" fill="none" stroke="#989898" stroke-width="0.6" stroke-linecap="round" stroke-linejoin="round"/>
<text x="268" y="868.8" font-size="13" fill="#333" text-anchor="start" font-weight="normal" >JH8806A</text>
<path d="M322 872.6L265 872.6L256 896.5" fill="none" stroke="#333" stroke-width="0.7"/>
<rect x="250" y="920.5" width="153" height="11.0" fill="#fff"/>
<rect x="250" y="920.8" width="153" height="2.0" fill="#dcdcdc"/>
<rect x="250" y="928.3" width="153" height="3.0" fill="#b6b6b6"/>
<path d="M250 920.5L403 920.5M250 931.5L403 931.5" fill="none" stroke="#444" stroke-width="0.7"/>
<path d="M251.5 920.5Q249 920.5 249 923.0L249 929.0Q249 931.5 251.5 931.5" fill="none" stroke="#444" stroke-width="0.7"/>
<path d="M401.5 920.5Q404 920.5 404 923.0L404 929.0Q404 931.5 401.5 931.5" fill="none" stroke="#444" stroke-width="0.7"/>
<path d="M320 919.9L325.0 922.8L315.7 928.5L320 932.1L332.5 932.1L328.2 928.5L337.5 922.8L332.5 919.9Z" fill="#fff"/>
<path d="M320 885L320 920.5L325.0 922.8L315.7 928.5L320 931.5L320 967.5" fill="none" stroke="#3a3a3a" stroke-width="0.85"/>
<path d="M332.5 885L332.5 920.5L337.5 922.8L328.2 928.5L332.5 931.5L332.5 967.5" fill="none" stroke="#3a3a3a" stroke-width="0.85"/>
<path d="M377.8 873.4L377.8 871Q379 863 388 862.2L442 862.2Q447.6 862.6 447.6 868L447.6 885.2L409.4 885.2L409.4 873.4L377.8 873.4" fill="none" stroke="#303030" stroke-width="2.3" stroke-linecap="round" stroke-linejoin="round"/>
<path d="M377.8 873.4L377.8 871Q379 863 388 862.2L442 862.2Q447.6 862.6 447.6 868L447.6 885.2L409.4 885.2L409.4 873.4L377.8 873.4" fill="none" stroke="#989898" stroke-width="0.9" stroke-linecap="round" stroke-linejoin="round"/>
<path d="M377.8 890.3L412 890.3" fill="none" stroke="#303030" stroke-width="2.0" stroke-linecap="round" stroke-linejoin="round"/>
<path d="M377.8 890.3L412 890.3" fill="none" stroke="#989898" stroke-width="0.7" stroke-linecap="round" stroke-linejoin="round"/>
<path d="M409.4 885.2L409.4 890" fill="none" stroke="#303030" stroke-width="2.0" stroke-linecap="round" stroke-linejoin="round"/>
<path d="M409.4 885.2L409.4 890" fill="none" stroke="#989898" stroke-width="0.7" stroke-linecap="round" stroke-linejoin="round"/>
<path d="M447.6 873.6L454.5 873.6Q458 873.6 458 877L458 886" fill="none" stroke="#303030" stroke-width="2.2" stroke-linecap="round" stroke-linejoin="round"/>
<path d="M447.6 873.6L454.5 873.6Q458 873.6 458 877L458 886" fill="none" stroke="#989898" stroke-width="0.8" stroke-linecap="round" stroke-linejoin="round"/>
<path d="M423.5 885.5L423.5 889.6L426.5 889.6" fill="none" stroke="#303030" stroke-width="1.6" stroke-linecap="round" stroke-linejoin="round"/>
<path d="M423.5 885.5L423.5 889.6L426.5 889.6" fill="none" stroke="#989898" stroke-width="0.5" stroke-linecap="round" stroke-linejoin="round"/>
<text x="418" y="843" font-size="13" fill="#333" text-anchor="start" font-weight="normal" >JH8800</text>
<path d="M463 848L413 848L406 861.5" fill="none" stroke="#333" stroke-width="0.7"/>
<path d="M382 917.5L377.8 917.5L377.8 897.4L474 897.4Q481.6 898 481.6 905L481.6 968.5" fill="none" stroke="#303030" stroke-width="3.0" stroke-linecap="round" stroke-linejoin="round"/>
<path d="M382 917.5L377.8 917.5L377.8 897.4L474 897.4Q481.6 898 481.6 905L481.6 968.5" fill="none" stroke="#989898" stroke-width="1.6" stroke-linecap="round" stroke-linejoin="round"/>
<path d="M382 934.2L377.8 934.2L377.8 953.4L447 953.4L447 968.8L423 968.8" fill="none" stroke="#303030" stroke-width="3.0" stroke-linecap="round" stroke-linejoin="round"/>
<path d="M382 934.2L377.8 934.2L377.8 953.4L447 953.4L447 968.8L423 968.8" fill="none" stroke="#989898" stroke-width="1.6" stroke-linecap="round" stroke-linejoin="round"/>
<path d="M409 897.4L409 953.4" fill="none" stroke="#303030" stroke-width="3.0" stroke-linecap="round" stroke-linejoin="round"/>
<path d="M409 897.4L409 953.4" fill="none" stroke="#989898" stroke-width="1.6" stroke-linecap="round" stroke-linejoin="round"/>
<path d="M447 963.6L481.6 963.6" fill="none" stroke="#303030" stroke-width="3.0" stroke-linecap="round" stroke-linejoin="round"/>
<path d="M447 963.6L481.6 963.6" fill="none" stroke="#989898" stroke-width="1.6" stroke-linecap="round" stroke-linejoin="round"/>
<path d="M467 964L467 968.5M478 964L478 968.5" fill="none" stroke="#303030" stroke-width="1.8" stroke-linecap="round" stroke-linejoin="round"/>
<path d="M467 964L467 968.5M478 964L478 968.5" fill="none" stroke="#989898" stroke-width="0.6" stroke-linecap="round" stroke-linejoin="round"/>
<text x="507" y="894.5" font-size="13" fill="#333" text-anchor="start" font-weight="normal" >JH8827A</text>
<path d="M560.5 898.8L501 898.8L482 917.5" fill="none" stroke="#333" stroke-width="0.7"/>
<path d="M436 962L411.8 962L411.8 978L478.5 978Q481.6 978.2 481.6 981L481.6 996.8L477.5 996.8" fill="none" stroke="#303030" stroke-width="3.0" stroke-linecap="round" stroke-linejoin="round"/>
<path d="M436 962L411.8 962L411.8 978L478.5 978Q481.6 978.2 481.6 981L481.6 996.8L477.5 996.8" fill="none" stroke="#989898" stroke-width="1.6" stroke-linecap="round" stroke-linejoin="round"/>
<path d="M411.8 967.2L378.2 967.2L378.2 1024Q379 1032 386 1032.4L481.6 1032.4L481.6 1013.4L477.5 1013.4" fill="none" stroke="#303030" stroke-width="3.0" stroke-linecap="round" stroke-linejoin="round"/>
<path d="M411.8 967.2L378.2 967.2L378.2 1024Q379 1032 386 1032.4L481.6 1032.4L481.6 1013.4L477.5 1013.4" fill="none" stroke="#989898" stroke-width="1.6" stroke-linecap="round" stroke-linejoin="round"/>
<path d="M449 978L449 1032.4" fill="none" stroke="#303030" stroke-width="3.0" stroke-linecap="round" stroke-linejoin="round"/>
<path d="M449 978L449 1032.4" fill="none" stroke="#989898" stroke-width="1.6" stroke-linecap="round" stroke-linejoin="round"/>
<path d="M378.2 966L378.2 962.6L380.8 962.6M390 966.5L390 962.8L392.4 962.8" fill="none" stroke="#303030" stroke-width="1.8" stroke-linecap="round" stroke-linejoin="round"/>
<path d="M378.2 966L378.2 962.6L380.8 962.6M390 966.5L390 962.8L392.4 962.8" fill="none" stroke="#989898" stroke-width="0.6" stroke-linecap="round" stroke-linejoin="round"/>
<path d="M421 963.4L436 962.6L436 964.4L426.5 966.2L437 966.4L437 968.4L421 968.2L421 966.6L430.5 964.8L421 965Z" fill="#777" stroke="#333" stroke-width="0.4"/>
<rect x="456" y="999.6" width="154" height="11.0" fill="#fff"/>
<rect x="456" y="999.9" width="154" height="2.0" fill="#dcdcdc"/>
<rect x="456" y="1007.4" width="154" height="3.0" fill="#b6b6b6"/>
<path d="M456 999.6L610 999.6M456 1010.6L610 1010.6" fill="none" stroke="#444" stroke-width="0.7"/>
<path d="M457.5 999.6Q455 999.6 455 1002.1L455 1008.1Q455 1010.6 457.5 1010.6" fill="none" stroke="#444" stroke-width="0.7"/>
<path d="M608.5 999.6Q611 999.6 611 1002.1L611 1008.1Q611 1010.6 608.5 1010.6" fill="none" stroke="#444" stroke-width="0.7"/>
<path d="M526.2 999.0L531.2 1001.9L521.9 1007.6L526.2 1011.2L538.2 1011.2L533.9 1007.6L543.2 1001.9L538.2 999.0Z" fill="#fff"/>
<path d="M526.2 963.8L526.2 999.6L531.2 1001.9L521.9 1007.6L526.2 1010.6L526.2 1045" fill="none" stroke="#3a3a3a" stroke-width="0.85"/>
<path d="M538.2 963.8L538.2 999.6L543.2 1001.9L533.9 1007.6L538.2 1010.6L538.2 1045" fill="none" stroke="#3a3a3a" stroke-width="0.85"/>
<ellipse cx="429.6" cy="1048.4" rx="34" ry="10.4" fill="#fff" stroke="#444" stroke-width="0.85"/>
<text x="429.6" y="1053.1" font-size="13" fill="#333" text-anchor="middle" font-weight="normal" >OUTSIDE</text>
<circle cx="429.4" cy="1074.2" r="10.7" fill="none" stroke="#444" stroke-width="0.9"/>
<text x="429.4" y="1078.8" font-size="13.2" fill="#333" text-anchor="middle" font-weight="normal" >5</text>
<path d="M712.4 873.8L712.4 872Q711 863.5 702 862.4L648 862.4Q642.2 862.8 642.2 868L642.2 885.6L680.2 885.6L680.2 873.8L712.4 873.8" fill="none" stroke="#303030" stroke-width="2.3" stroke-linecap="round" stroke-linejoin="round"/>
<path d="M712.4 873.8L712.4 872Q711 863.5 702 862.4L648 862.4Q642.2 862.8 642.2 868L642.2 885.6L680.2 885.6L680.2 873.8L712.4 873.8" fill="none" stroke="#989898" stroke-width="0.9" stroke-linecap="round" stroke-linejoin="round"/>
<path d="M677.5 889.6L712.4 889.6" fill="none" stroke="#303030" stroke-width="2.0" stroke-linecap="round" stroke-linejoin="round"/>
<path d="M677.5 889.6L712.4 889.6" fill="none" stroke="#989898" stroke-width="0.7" stroke-linecap="round" stroke-linejoin="round"/>
<path d="M680.2 885.6L680.2 889.4" fill="none" stroke="#303030" stroke-width="2.0" stroke-linecap="round" stroke-linejoin="round"/>
<path d="M680.2 885.6L680.2 889.4" fill="none" stroke="#989898" stroke-width="0.7" stroke-linecap="round" stroke-linejoin="round"/>
<path d="M642.2 873.4L635 873.4Q631.4 873.4 631.4 877L631.4 886" fill="none" stroke="#303030" stroke-width="2.2" stroke-linecap="round" stroke-linejoin="round"/>
<path d="M642.2 873.4L635 873.4Q631.4 873.4 631.4 877L631.4 886" fill="none" stroke="#989898" stroke-width="0.8" stroke-linecap="round" stroke-linejoin="round"/>
<path d="M666 885.8L666 889.4L663 889.4" fill="none" stroke="#303030" stroke-width="1.6" stroke-linecap="round" stroke-linejoin="round"/>
<path d="M666 885.8L666 889.4L663 889.4" fill="none" stroke="#989898" stroke-width="0.5" stroke-linecap="round" stroke-linejoin="round"/>
<path d="M681.5 877.6L747.4 877.6L747.4 897" fill="none" stroke="#303030" stroke-width="3.0" stroke-linecap="round" stroke-linejoin="round"/>
<path d="M681.5 877.6L747.4 877.6L747.4 897" fill="none" stroke="#989898" stroke-width="1.6" stroke-linecap="round" stroke-linejoin="round"/>
<path d="M714.6 877.6L714.6 1052.6" fill="none" stroke="#303030" stroke-width="3.0" stroke-linecap="round" stroke-linejoin="round"/>
<path d="M714.6 877.6L714.6 1052.6" fill="none" stroke="#989898" stroke-width="1.6" stroke-linecap="round" stroke-linejoin="round"/>
<path d="M682 1052.6L747.4 1052.6L747.4 1035" fill="none" stroke="#303030" stroke-width="3.0" stroke-linecap="round" stroke-linejoin="round"/>
<path d="M682 1052.6L747.4 1052.6L747.4 1035" fill="none" stroke="#989898" stroke-width="1.6" stroke-linecap="round" stroke-linejoin="round"/>
<path d="M714.6 992.6L694 992.6L690.2 996.2" fill="none" stroke="#303030" stroke-width="2.4" stroke-linecap="round" stroke-linejoin="round"/>
<path d="M714.6 992.6L694 992.6L690.2 996.2" fill="none" stroke="#989898" stroke-width="1.0" stroke-linecap="round" stroke-linejoin="round"/>
<path d="M714.6 1018.8L694 1018.8L690.2 1015.2" fill="none" stroke="#303030" stroke-width="2.4" stroke-linecap="round" stroke-linejoin="round"/>
<path d="M714.6 1018.8L694 1018.8L690.2 1015.2" fill="none" stroke="#989898" stroke-width="1.0" stroke-linecap="round" stroke-linejoin="round"/>
<path d="M587.5 996.2L583.2 996.2L583.2 976.2L713 976.2" fill="none" stroke="#303030" stroke-width="3.0" stroke-linecap="round" stroke-linejoin="round"/>
<path d="M587.5 996.2L583.2 996.2L583.2 976.2L713 976.2" fill="none" stroke="#989898" stroke-width="1.6" stroke-linecap="round" stroke-linejoin="round"/>
<path d="M587.5 1014L583.2 1014L583.2 1033L713 1033" fill="none" stroke="#303030" stroke-width="3.0" stroke-linecap="round" stroke-linejoin="round"/>
<path d="M587.5 1014L583.2 1014L583.2 1033L713 1033" fill="none" stroke="#989898" stroke-width="1.6" stroke-linecap="round" stroke-linejoin="round"/>
<path d="M615 976.2L615 1033" fill="none" stroke="#303030" stroke-width="3.0" stroke-linecap="round" stroke-linejoin="round"/>
<path d="M615 976.2L615 1033" fill="none" stroke="#989898" stroke-width="1.6" stroke-linecap="round" stroke-linejoin="round"/>
<path d="M686.2 976.2L686.2 1033" fill="none" stroke="#303030" stroke-width="3.0" stroke-linecap="round" stroke-linejoin="round"/>
<path d="M686.2 976.2L686.2 1033" fill="none" stroke="#989898" stroke-width="1.6" stroke-linecap="round" stroke-linejoin="round"/>
<path d="M711.4 977L711.4 980.5L709 982M698 977L698 980.5L700.4 982" fill="none" stroke="#303030" stroke-width="1.8" stroke-linecap="round" stroke-linejoin="round"/>
<path d="M711.4 977L711.4 980.5L709 982M698 977L698 980.5L700.4 982" fill="none" stroke="#989898" stroke-width="0.6" stroke-linecap="round" stroke-linejoin="round"/>
<path d="M711.4 1032.4L711.4 1029L709 1027.5M698 1032.4L698 1029L700.4 1027.5" fill="none" stroke="#303030" stroke-width="1.8" stroke-linecap="round" stroke-linejoin="round"/>
<path d="M711.4 1032.4L711.4 1029L709 1027.5M698 1032.4L698 1029L700.4 1027.5" fill="none" stroke="#989898" stroke-width="0.6" stroke-linecap="round" stroke-linejoin="round"/>
<circle cx="145" cy="1075" r="10.7" fill="none" stroke="#444" stroke-width="0.9"/>
<text x="145" y="1079.6" font-size="13.2" fill="#333" text-anchor="middle" font-weight="normal" >4</text>
<circle cx="715" cy="1074.6" r="10.7" fill="none" stroke="#444" stroke-width="0.9"/>
<text x="715" y="1079.1999999999998" font-size="13.2" fill="#333" text-anchor="middle" font-weight="normal" >6</text>
</g>
</svg>
</body></html>
